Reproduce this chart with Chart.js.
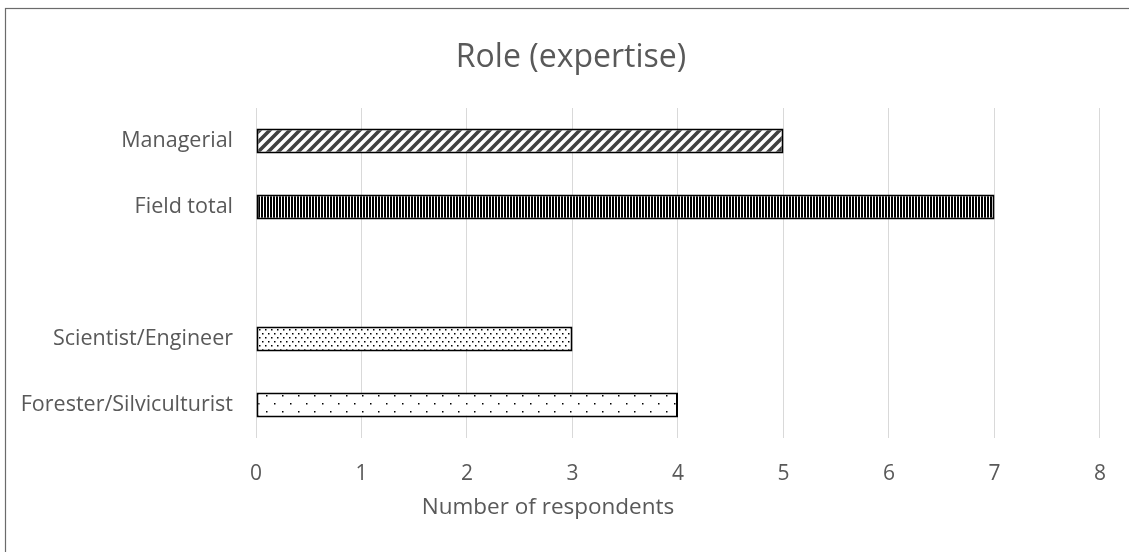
<!DOCTYPE html>
<html>
<head>
<meta charset="utf-8">
<script src="https://cdn.jsdelivr.net/npm/chart.js@4"></script>
<style>
  html, body { margin: 0; padding: 0; background: #ffffff; }
  #wrap { width: 1129px; height: 552px; position: relative; }
</style>
</head>
<body>
<div id="wrap"><canvas id="chart"></canvas></div>
<script>
// Roles, top to bottom (blank slot separates the summary rows from the breakdown)
const categories = ['Managerial', 'Field total', '', 'Scientist/Engineer', 'Forester/Silviculturist'];
const respondents = [5, 7, null, 3, 4];
const xTicks = [0, 1, 2, 3, 4, 5, 6, 7, 8];

const chartTitle = 'Role (expertise)';
const xAxisTitle = 'Number of respondents';
const FONT = '"Open Sans", "Liberation Sans", sans-serif';
const TEXT = '#595959';

// --- fill patterns -------------------------------------------------------
function tile(w, h, draw) {
  const c = document.createElement('canvas');
  c.width = w; c.height = h;
  const g = c.getContext('2d');
  g.fillStyle = '#ffffff';
  g.fillRect(0, 0, w, h);
  draw(g);
  return g.createPattern(c, 'repeat');
}
const wideDiagonal = tile(10, 10, g => {
  g.strokeStyle = '#404040';
  g.lineWidth = 3.6;
  g.beginPath();
  g.moveTo(-5, 5); g.lineTo(5, -5);
  g.moveTo(0, 10); g.lineTo(10, 0);
  g.moveTo(5, 15); g.lineTo(15, 5);
  g.stroke();
});
const narrowVertical = tile(3, 4, g => {
  g.fillStyle = '#000000';
  g.fillRect(0, 0, 2, 4);
});
const smallDots = tile(6, 8, g => {
  g.fillStyle = '#000000';
  g.fillRect(1, 1, 1.5, 1.5);
  g.fillRect(4, 5, 1.5, 1.5);
});
const sparseDots = tile(16, 16, g => {
  g.fillStyle = '#000000';
  g.fillRect(2, 3, 1.5, 1.5);
  g.fillRect(10, 11, 1.5, 1.5);
});
const fills = [wideDiagonal, narrowVertical, '#ffffff', smallDots, sparseDots];

// --- title, axis title and outer frame -----------------------------------
const decorations = {
  id: 'decorations',
  afterDraw(chart) {
    const ctx = chart.ctx;
    ctx.save();
    ctx.strokeStyle = '#6b6b6b';
    ctx.lineWidth = 1.2;
    ctx.strokeRect(5.5, 8.5, 1400, 800);
    ctx.fillStyle = TEXT;
    ctx.textAlign = 'center';
    ctx.textBaseline = 'middle';
    ctx.font = '32px ' + FONT;
    ctx.fillText(chartTitle, 571, 58);
    ctx.font = '22.5px ' + FONT;
    ctx.fillText(xAxisTitle, 548, 508);
    ctx.restore();
  }
};

new Chart(document.getElementById('chart'), {
  type: 'bar',
  data: {
    labels: categories,
    datasets: [{
      data: respondents,
      backgroundColor: fills,
      borderColor: '#000000',
      borderWidth: 2,
      borderSkipped: false,
      barPercentage: 0.75,
      categoryPercentage: 0.51
    }]
  },
  options: {
    indexAxis: 'y',
    responsive: true,
    maintainAspectRatio: false,
    animation: false,
    events: [],
    layout: { padding: { left: 8, right: 28, top: 108, bottom: 0 } },
    plugins: { legend: { display: false }, title: { display: false }, tooltip: { enabled: false } },
    scales: {
      x: {
        min: xTicks[0],
        max: xTicks[xTicks.length - 1],
        afterBuildTicks(scale) { scale.ticks = xTicks.map(v => ({ value: v })); },
        grid: { color: '#d9d9d9', lineWidth: 1, drawTicks: false },
        border: { display: false },
        ticks: { color: TEXT, font: { family: FONT, size: 21 }, padding: 23 },
        afterFit(scale) { scale.height = 114; }
      },
      y: {
        grid: { display: false, drawTicks: false },
        border: { display: false },
        ticks: { color: TEXT, font: { family: FONT, size: 21.5 }, padding: 23, autoSkip: false },
        afterFit(scale) { scale.width = 248; }
      }
    }
  },
  plugins: [decorations]
});
</script>
</body>
</html>
